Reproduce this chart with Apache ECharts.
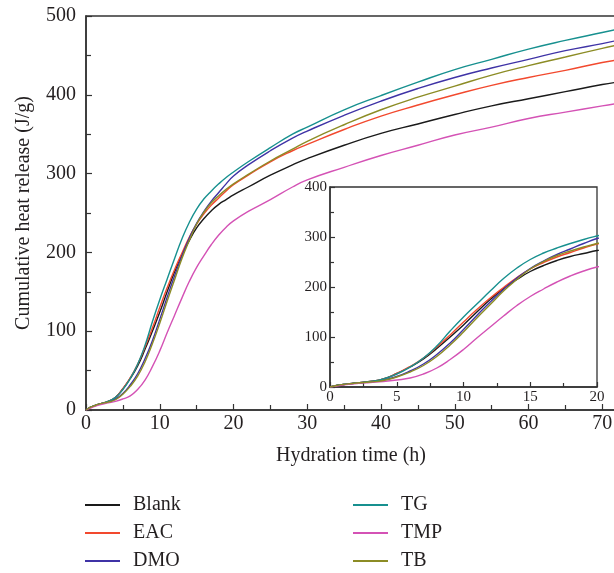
<!DOCTYPE html>
<html><head><meta charset="utf-8">
<script src="https://cdn.jsdelivr.net/npm/echarts@6/dist/echarts.min.js"></script>
<style>html,body{margin:0;padding:0;background:#fff}#c{width:614px;height:573px}</style>
</head><body><div id="c"></div>
<script>
const hours = [0, 0.5, 1, 2, 3, 4, 5, 6, 7, 8, 9, 10, 11, 12, 13, 14, 15, 16, 17, 18, 19, 20, 22, 25, 28, 30, 35, 40, 45, 50, 55, 60, 65, 70, 72];
const blank = [0,3,5,8,11,16,27,40,56,77, 100,124,150,175,197,215,231,243,253,261, 267,273,283,298,311,319,336,351,363,375, 386,395,404,413,416];
const eac   = [0,3,5,8,11,16,27,41,58,80, 104,130,155,178,199,219,236,249,260,269, 278,286,298,315,329,337,356,373,387,400, 412,422,431,441,444];
const dmo   = [0,3,5,8,10,14,21,32,46,65, 88,115,143,170,195,218,237,252,265,276, 287,297,311,329,345,354,374,392,408,422, 434,445,456,465,469];
const tg    = [0,3,5,8,11,16,26,40,58,82, 112,140,166,192,217,238,255,268,278,287, 295,302,315,333,350,359,381,399,416,432, 445,458,469,479,483];
const tmp   = [0,2,4,7,9,11,14,18,26,38, 55,75,98,120,142,163,181,196,210,222, 232,240,252,267,283,292,308,323,336,349, 359,370,378,386,389];
const tb    = [0,3,5,8,10,13,20,30,43,61, 84,110,138,165,192,215,236,251,263,272, 280,287,299,316,331,341,362,381,397,411, 425,437,448,459,463];

const names = ['Blank', 'EAC', 'DMO', 'TG', 'TMP', 'TB'];
const values = [blank, eac, dmo, tg, tmp, tb];
const colors = ['#1a1a1a', '#f2492e', '#3f33a6', '#17908f', '#d452b5', '#8c8c25'];
const mainXTicks = { min: 0, max: 80, interval: 10 };
const mainYTicks = { min: 0, max: 500, interval: 100 };
const insetXTicks = { min: 0, max: 20, interval: 5 };
const insetYTicks = { min: 0, max: 400, interval: 100 };

const FONT = 'Liberation Serif';
const AX = '#333333';
const TXT = '#231f20';

function axis(gridIndex, ticks, fs, margin, tickLen, extra) {
  return Object.assign({
    type: 'value', gridIndex: gridIndex,
    min: ticks.min, max: ticks.max, interval: ticks.interval,
    axisLine: { show: true, lineStyle: { color: AX, width: 1.5 } },
    axisTick: { show: true, inside: true, length: tickLen, lineStyle: { color: AX, width: 1.2 } },
    minorTick: { show: true, splitNumber: 2, length: tickLen - 1, lineStyle: { color: AX, width: 1.2 } },
    splitLine: { show: false },
    axisLabel: { fontFamily: FONT, fontSize: fs, color: TXT, margin: margin }
  }, extra || {});
}

const series = [];
names.forEach((n, i) => {
  const d = hours.map((h, j) => [h, values[i][j]]);
  [0, 1].forEach(g => {
    series.push({
      name: n, type: 'line', xAxisIndex: g, yAxisIndex: g,
      data: d, symbol: 'none', smooth: 0.5, clip: true,
      lineStyle: { color: colors[i], width: 1.4 }, itemStyle: { color: colors[i] },
      z: 3
    });
  });
});

const legendBase = {
  orient: 'vertical', top: 495, itemWidth: 35, itemHeight: 2, icon: 'rect', itemGap: 8, padding: 0,
  textStyle: { fontFamily: FONT, fontSize: 20, color: TXT, lineHeight: 20, padding: [0, 0, 0, 8] }
};

const chart = echarts.init(document.getElementById('c'), null, { renderer: 'canvas' });
chart.setOption({
  animation: false,
  backgroundColor: '#ffffff',
  grid: [
    { left: 86, top: 16, width: 590, height: 394, show: true, borderColor: AX, borderWidth: 1.5, outerBoundsMode: 'none', containLabel: false },
    { left: 330, top: 187, width: 267, height: 200, show: true, borderColor: AX, borderWidth: 1.3, outerBoundsMode: 'none', containLabel: false }
  ],
  xAxis: [
    axis(0, mainXTicks, 20, 4, 6, {
      name: 'Hydration time (h)', nameLocation: 'middle', nameGap: 36,
      nameTextStyle: { fontFamily: FONT, fontSize: 20, color: TXT, padding: [0, 60, 0, 0] }
    }),
    axis(1, insetXTicks, 15, 3, 5)
  ],
  yAxis: [
    axis(0, mainYTicks, 20, 10, 6, {
      name: 'Cumulative heat release (J/g)', nameLocation: 'middle', nameGap: 52, nameRotate: 90,
      nameTextStyle: { fontFamily: FONT, fontSize: 20, color: TXT }
    }),
    axis(1, insetYTicks, 15, 3, 5)
  ],
  legend: [
    Object.assign({}, legendBase, { left: 85, data: ['Blank', 'EAC', 'DMO'] }),
    Object.assign({}, legendBase, { left: 353, data: ['TG', 'TMP', 'TB'] })
  ],
  series: series
});
</script>
</body></html>
